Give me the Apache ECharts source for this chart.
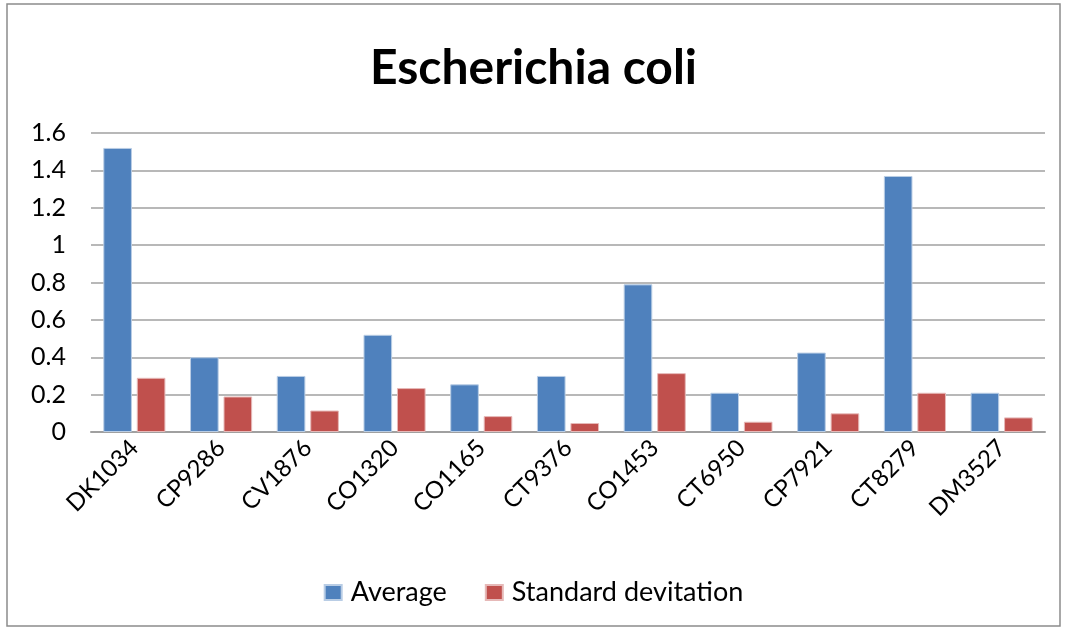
<!DOCTYPE html>
<html>
<head>
<meta charset="utf-8">
<script src="https://cdn.jsdelivr.net/npm/echarts@6/dist/echarts.min.js"></script>
<style>
html,body{margin:0;padding:0;background:#fff;}
#main{width:1067px;height:630px;}
</style>
</head>
<body>
<div id="main"></div>
<script>
var strains = ['DK1034','CP9286','CV1876','CO1320','CO1165','CT9376','CO1453','CT6950','CP7921','CT8279','DM3527'];
var average = [1.52,0.40,0.30,0.52,0.255,0.30,0.79,0.21,0.425,1.37,0.21];
var stdDev = [0.29,0.19,0.115,0.235,0.085,0.048,0.315,0.055,0.10,0.21,0.078];
var yTicks = [0,0.2,0.4,0.6,0.8,1,1.2,1.4,1.6];

var font = 'Lato, "Open Sans", sans-serif';
var chart = echarts.init(document.getElementById('main'));
var option = {
	animation:false,
	backgroundColor:'#fff',
	graphic:[{
		type:'rect',
		shape:{x:7,y:4,width:1053,height:622},
		style:{fill:'none',stroke:'#8c8c8c',lineWidth:1.5},
		silent:true
	}],
	title:{
		text:'Escherichia coli',
		left:'center',
		top:40,
		textStyle:{fontFamily:font,fontSize:48,fontWeight:'bold',color:'#000'}
	},
	legend:{
		bottom:19,
		left:'center',
		itemWidth:17,
		itemHeight:15,
		itemGap:38,
		icon:'rect',
		textStyle:{fontFamily:font,fontSize:27,color:'#000',padding:[0,0,0,4]},
		data:['Average','Standard devitation']
	},
	grid:{left:91,right:22,top:133,bottom:198},
	xAxis:{
		type:'category',
		data:strains,
		axisTick:{show:false},
		axisLine:{lineStyle:{color:'#a0a0a0',width:2}},
		axisLabel:{rotate:45,fontFamily:font,fontSize:24,color:'#000',margin:12,interval:0}
	},
	yAxis:{
		type:'value',
		min:0,
		max:1.6,
		interval:0.2,
		axisLine:{show:false},
		axisTick:{show:false},
		splitLine:{lineStyle:{color:'#a0a0a0',width:1.5}},
		axisLabel:{
			fontFamily:font,fontSize:25,color:'#000',margin:25,
			formatter:function(v){
				for(var i=0;i<yTicks.length;i++){
					if(Math.abs(yTicks[i]-v)<1e-6) return String(yTicks[i]);
				}
				return '';
			}
		}
	},
	series:[
		{
			name:'Average',
			type:'bar',
			data:average,
			barWidth:'33%',
			barGap:'17%',
			itemStyle:{color:'#4F81BD',borderColor:'#b9cde5',borderWidth:1}
		},
		{
			name:'Standard devitation',
			type:'bar',
			data:stdDev,
			barWidth:'33%',
			barGap:'17%',
			itemStyle:{color:'#C0504D',borderColor:'#e6b9b8',borderWidth:1}
		}
	]
};
chart.setOption(option);
</script>
</body>
</html>
